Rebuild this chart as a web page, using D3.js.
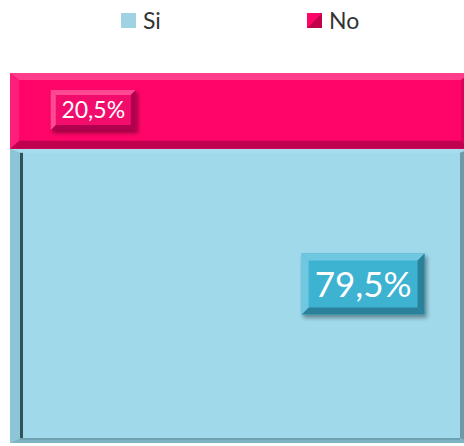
<!DOCTYPE html>
<html>
<head>
<meta charset="utf-8">
<script src="https://cdn.jsdelivr.net/npm/d3@7/dist/d3.min.js"></script>
<style>
  html, body { margin: 0; padding: 0; background: #ffffff; }
  svg { display: block; }
  text { font-family: Lato, "Open Sans", sans-serif; }
</style>
</head>
<body>
<svg id="chart" width="464" height="446"></svg>
<script>
// Survey answers, shares in percent of a single stacked column
const categories = ["Total"];
const seriesNames = ["Si", "No"];
const siValues = [79.5];
const noValues = [20.5];
const valueLabels = ["79,5%", "20,5%"];

const W = 464, H = 446;
const svg = d3.select("#chart");
const defs = svg.append("defs");

const palette = {
  Si: { face: "#9fd9ea", light: "#b9e6f2", dark: "#5f8f9c", shade: "#1e3a42",
        box: "#3db2d1", boxLight: "#6fc8e0", boxDark: "#2a8199" },
  No: { face: "#ff0569", light: "#ff3d8a", dark: "#c0004e", shade: "#7a0030",
        box: "#f20a6d", boxLight: "#ff4a92", boxDark: "#b0004f" }
};

// Stack the two series into one column
const table = categories.map((c, i) => ({ category: c, Si: siValues[i], No: noValues[i] }));
const stack = d3.stack().keys(seriesNames)(table);

const x = d3.scaleBand().domain(categories).range([10, 470]).paddingInner(0).paddingOuter(0);
const y = d3.scaleLinear().domain([0, 100]).range([443, 73]);

// Soft drop shadow for the value boxes
const f = defs.append("filter").attr("id", "boxShadow")
  .attr("x", "-20%").attr("y", "-20%").attr("width", "150%").attr("height", "160%");
f.append("feGaussianBlur").attr("in", "SourceAlpha").attr("stdDeviation", 2).attr("result", "b");
f.append("feOffset").attr("in", "b").attr("dx", 2).attr("dy", 3).attr("result", "o");
f.append("feComponentTransfer").attr("in", "o").attr("result", "s")
  .append("feFuncA").attr("type", "linear").attr("slope", 0.4);
const fm = f.append("feMerge");
fm.append("feMergeNode").attr("in", "s");
fm.append("feMergeNode").attr("in", "SourceGraphic");

// Draw a rectangle with bevelled edges: four sloped faces around a flat top
function bevelRect(g, x0, y0, w, h, b, c) {
  const x1 = x0 + w, y1 = y0 + h;
  const [bl, bt, br, bb] = b;
  g.append("rect").attr("x", x0).attr("y", y0).attr("width", w).attr("height", h).attr("fill", c.face);
  const poly = (pts, fill) => g.append("polygon")
    .attr("points", pts.map(p => p.join(",")).join(" ")).attr("fill", fill);
  poly([[x0, y0], [x1, y0], [x1 - br, y0 + bt], [x0 + bl, y0 + bt]], c.light);
  poly([[x0, y1], [x1, y1], [x1 - br, y1 - bb], [x0 + bl, y1 - bb]], c.dark);
  poly([[x0, y0], [x0 + bl, y0 + bt], [x0 + bl, y1 - bb], [x0, y1]], c.left || c.light);
  poly([[x1, y0], [x1 - br, y0 + bt], [x1 - br, y1 - bb], [x1, y1]], c.right || c.dark);
}

const barG = svg.append("g");
stack.forEach(layer => {
  const key = layer.key;
  const d = layer[0];
  const x0 = x(d.data.category), w = x.bandwidth();
  const y0 = y(d[1]), h = y(d[0]) - y(d[1]);
  const p = palette[key];
  const g = barG.append("g");
  if (key === "Si") {
    bevelRect(g, x0, y0, w, h, [10, 4, 10, 5],
      { face: p.face, light: "#a8dcec", dark: "#7fb5c4", left: "#8cc6d6", right: "#6d9aa6" });
    // inner shadow line along the left slope
    g.append("rect").attr("x", x0 + 10).attr("y", y0 + 4)
      .attr("width", 3).attr("height", h - 9).attr("fill", p.shade).attr("opacity", 0.85);
    g.append("rect").attr("x", x0 + 10).attr("y", y(d[0]) - 5)
      .attr("width", w - 20).attr("height", 2).attr("fill", "#6fa3b1");
  } else {
    bevelRect(g, x0, y0, w, h, [9, 7, 9, 8],
      { face: p.face, light: p.light, dark: p.dark, left: "#ff1f7a", right: "#dc005a" });
  }
});

// Value boxes
const labelSpec = {
  Si: { fx: 0.776, dy: -12, w: 123, h: 61, size: 35, bevel: 7 },
  No: { fx: 0.183, dy: -1, w: 85, h: 40, size: 23, bevel: 5 }
};
stack.forEach(layer => {
  const key = layer.key;
  const d = layer[0];
  const s = labelSpec[key];
  const p = palette[key];
  const cx = 10 + 455 * s.fx;
  const cy = (y(d[0]) + y(d[1])) / 2 + s.dy;
  const g = barG.append("g").attr("filter", "url(#boxShadow)");
  const bx = cx - s.w / 2, by = cy - s.h / 2;
  bevelRect(g, bx, by, s.w, s.h, [s.bevel, s.bevel, s.bevel, s.bevel],
    { face: p.box, light: p.boxLight, dark: p.boxDark, left: p.boxLight, right: p.boxDark });
  const label = key === "Si" ? valueLabels[0] : valueLabels[1];
  barG.append("text")
    .attr("x", cx).attr("y", cy + s.size * 0.36)
    .attr("text-anchor", "middle")
    .attr("font-size", s.size)
    .attr("fill", "#ffffff")
    .text(label);
});

// Legend
const legendX = { Si: 121, No: 307 };
const leg = svg.append("g");
seriesNames.forEach(name => {
  const lx = legendX[name];
  const c = palette[name];
  leg.append("rect").attr("x", lx).attr("y", 13).attr("width", 15).attr("height", 15)
    .attr("fill", name === "Si" ? "#9fd3e3" : c.face);
  if (name === "No") {
    leg.append("polygon").attr("points", `${lx + 15},${13} ${lx + 15},${28} ${lx},${28}`)
      .attr("fill", "#a8003f").attr("opacity", 0.7);
  }
  leg.append("text").attr("x", lx + 22).attr("y", 29)
    .attr("font-size", 23).attr("fill", "#333333").text(name);
});
</script>
</body>
</html>
